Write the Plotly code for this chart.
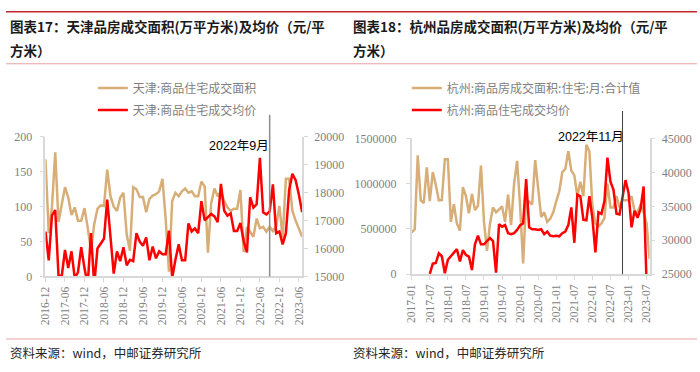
import pandas as pd
import plotly.graph_objects as go

# ---------------- data ----------------
tj_months = [p.strftime("%Y-%m") for p in pd.period_range("2016-12", "2023-07", freq="M")]
tj_area = [168, 62, 100, 178, 78, 106, 128, 113, 88, 99,
           80, 80, 98, 70, 37, 75, 97, 102, 101, 153,
           115, 100, 94, 113, 120, 60, 37, 128, 125, 114,
           114, 92, 111, 116, 118, 122, 140, 82, 7, 108,
           120, 115, 122, 126, 120, 122, 115, 115, 136, 129,
           34, 105, 126, 115, 122, 108, 99, 94, 97, 97,
           124, 35, 71, 64, 57, 83, 69, 71, 64, 71,
           65, 72, 101, 55, 140, 140, 94, 80, 68, 57]
tj_price = [16610, 15575, 17185, 17380, 15050, 15000, 15950, 15300, 15900, 14950,
            15150, 16050, 15300, 14700, 16550, 14700, 16000, 16200, 16350, 17750,
            16450, 15100, 15900, 15550, 16050, 15400, 15600, 15550, 16550, 16250,
            16100, 16400, 15580, 16070, 15650, 15900, 15800, 15800, 16640, 14950,
            15600, 16150, 15580, 15580, 16900, 16610, 16720, 16550, 17700, 17010,
            17130, 17240, 17150, 16950, 18320, 17360, 17180, 17260, 16630, 16630,
            16920, 16260, 15860, 17840, 17470, 17590, 19250, 17300, 17220, 17330,
            18300, 16550, 16610, 16150, 16550, 18100, 18680, 18450, 17930, 17300]

hz_months = [p.strftime("%Y-%m") for p in pd.period_range("2017-01", "2023-08", freq="M")]
hz_area = [461000, 496000, 1312000, 816000, 784000, 1181000, 808000, 1128000, 986000, 816000,
           819000, 1270000, 1270000, 578000, 773000, 560000, 482000, 961000, 862000, 674000,
           887000, 709000, 755000, 1199000, 578000, 259000, 560000, 738000, 684000, 720000,
           748000, 578000, 879000, 543000, 1004000, 1252000, 750000, 120000, 826000, 800000,
           770000, 1260000, 933000, 631000, 684000, 578000, 613000, 684000, 808000, 915000,
           1128000, 1163000, 1358000, 1145000, 1092000, 862000, 1021000, 862000, 1429000, 1358000,
           750000, 560000, 530000, 560000, 620000, 1000000, 738000, 738000, 862000, 740000,
           816000, 816000, 816000, 862000, 700000, 684000, 773000, 684000, 560000, 170000]
hz_price = [None, None, None, None, None, None, 25050, 26560, 26650, 28070,
            27650, 25140, 27130, 27600, 28215, 28690, 26890, 28550, 27840, 27600,
            25615, 29400, 30670, 29400, 29400, 29870, 30340, 29870, 25250, 32380,
            32000, 32230, 31050, 30900, 31050, 31520, 32230, 32470, 38990, 31900,
            31620, 31620, 31520, 31620, 30910, 31290, 30670, 30580, 30670, 30580,
            31050, 31290, 32230, 34830, 29630, 36730, 36490, 33040, 32940, 36490,
            33270, 28220, 34120, 33890, 35780, 42160, 38620, 37430, 33890, 33790,
            36490, 38850, 36960, 31900, 34360, 33320, 34600, 37910, 23500, None]

tj_marker = "2022-09"
hz_marker = "2022-11"

TAN = "#D8AE78"
RED = "#FF0000"
GREY = "#7f7f7f"
AXC = "#d9d9d9"
W, H = 700, 372


def px(xp):
    return xp / W


def py(yp):
    return 1 - yp / H


fig = go.Figure()
fig.add_trace(go.Scatter(x=tj_months, y=tj_area, mode="lines", name="天津:商品住宅成交面积",
                         line=dict(color=TAN, width=2.5), xaxis="x", yaxis="y",
                         legend="legend", legendgroup="a"))
fig.add_trace(go.Scatter(x=tj_months, y=tj_price, mode="lines", name="天津:商品住宅成交均价",
                         line=dict(color=RED, width=2.5), xaxis="x", yaxis="y2",
                         legend="legend", legendgroup="b"))
fig.add_trace(go.Scatter(x=hz_months, y=hz_area, mode="lines", name="杭州:商品房成交面积:住宅:月:合计值",
                         line=dict(color=TAN, width=2.5), xaxis="x2", yaxis="y3",
                         legend="legend2", legendgroup="c"))
fig.add_trace(go.Scatter(x=hz_months, y=hz_price, mode="lines", name="杭州:商品住宅成交均价",
                         line=dict(color=RED, width=2.5), xaxis="x2", yaxis="y4",
                         legend="legend2", legendgroup="d", connectgaps=False))

SERIF = "Liberation Serif"
tickfont = dict(family=SERIF, size=12, color=GREY)
xtickfont = dict(family=SERIF, size=11.5, color=GREY)
common_axis = dict(showgrid=False, zeroline=False, showline=True, linecolor=AXC, linewidth=1.5,
                   ticks="outside", ticklen=4, tickcolor=AXC, tickwidth=1)

L_dom = [px(40), px(300)]
L_ydom = [py(280), py(135)]
R_dom = [px(411), px(652)]
R_ydom = [py(277.7), py(136.5)]

fig.update_layout(
    width=W, height=H, margin=dict(l=0, r=0, t=0, b=0),
    paper_bgcolor="white", plot_bgcolor="white",
    xaxis=dict(domain=L_dom, anchor="y", type="category", categoryorder="array",
               categoryarray=tj_months, range=[0, len(tj_months) - 1],
               tickvals=tj_months[::6], ticktext=tj_months[::6], tickangle=-90,
               tickfont=xtickfont, **common_axis),
    yaxis=dict(domain=L_ydom, anchor="x", range=[0, 200], dtick=50, tickfont=tickfont,
               ticklabelstandoff=5, **common_axis),
    yaxis2=dict(domain=L_ydom, anchor="x", overlaying="y", side="right", range=[15000, 20000],
                dtick=1000, tickformat="d", tickfont=tickfont, ticklabelstandoff=4, **common_axis),
    xaxis2=dict(domain=R_dom, anchor="y3", type="category", categoryorder="array",
                categoryarray=hz_months, range=[0, len(hz_months) - 1],
                tickvals=hz_months[::6], ticktext=hz_months[::6], tickangle=-90,
                tickfont=xtickfont, **common_axis),
    yaxis3=dict(domain=R_ydom, anchor="x2", range=[0, 1500000], dtick=500000,
                tickformat="d", tickfont=tickfont, ticklabelstandoff=7, **common_axis),
    yaxis4=dict(domain=R_ydom, anchor="x2", overlaying="y3", side="right", range=[25000, 45000],
                dtick=5000, tickformat="d", tickfont=tickfont, ticklabelstandoff=4, **common_axis),
    legend=dict(x=px(88), y=py(69), xanchor="left", yanchor="top", bgcolor="rgba(0,0,0,0)",
                font=dict(family="Noto Sans CJK SC", size=12, color=GREY),
                tracegroupgap=3, itemwidth=30),
    legend2=dict(x=px(406), y=py(69), xanchor="left", yanchor="top", bgcolor="rgba(0,0,0,0)",
                 font=dict(family="Noto Sans CJK SC", size=12, color=GREY),
                 tracegroupgap=3, itemwidth=30),
    showlegend=True,
)

shapes = [
    dict(type="line", xref="paper", yref="paper", x0=0, x1=1, y0=py(5), y1=py(5),
         line=dict(color="#C0282D", width=1.5)),
    dict(type="line", xref="paper", yref="paper", x0=0, x1=1, y0=py(59), y1=py(59),
         line=dict(color="#E8A3A3", width=1)),
    dict(type="line", xref="paper", yref="paper", x0=0, x1=1, y0=py(345), y1=py(345),
         line=dict(color="#E8A3A3", width=1)),
    dict(type="line", xref="x", yref="paper", x0=tj_marker, x1=tj_marker, y0=L_ydom[0], y1=py(112),
         line=dict(color="#8c8c8c", width=1.5)),
    dict(type="line", xref="x2", yref="paper", x0=hz_marker, x1=hz_marker, y0=R_ydom[0], y1=py(108),
         line=dict(color="#404040", width=1)),
]
fig.update_layout(shapes=shapes)

title_font = dict(family="Noto Sans CJK SC", size=13.5, color="#1a1a1a")
src_font = dict(family="Noto Sans CJK SC", size=12.5, color="#262626")
ann_font = dict(family="Liberation Sans, Noto Sans CJK SC", size=12.5, color="#000000")
annotations = [
    dict(text="<b>图表17：天津品房成交面积(万平方米)及均价（元/平</b>", x=px(2), y=py(20),
         xref="paper", yref="paper", xanchor="left", yanchor="middle", showarrow=False, font=title_font),
    dict(text="<b>方米）</b>", x=px(2), y=py(45),
         xref="paper", yref="paper", xanchor="left", yanchor="middle", showarrow=False, font=title_font),
    dict(text="<b>图表18：杭州品房成交面积(万平方米)及均价（元/平</b>", x=px(349), y=py(20),
         xref="paper", yref="paper", xanchor="left", yanchor="middle", showarrow=False, font=title_font),
    dict(text="<b>方米）</b>", x=px(349), y=py(45),
         xref="paper", yref="paper", xanchor="left", yanchor="middle", showarrow=False, font=title_font),
    dict(text="资料来源：wind，中邮证券研究所", x=px(2), y=py(359),
         xref="paper", yref="paper", xanchor="left", yanchor="middle", showarrow=False, font=src_font),
    dict(text="资料来源：wind，中邮证券研究所", x=px(349), y=py(359),
         xref="paper", yref="paper", xanchor="left", yanchor="middle", showarrow=False, font=src_font),
    dict(text="2022年9月", x=tj_marker, xref="x", y=py(144), yref="paper", xanchor="right",
         yanchor="middle", xshift=1, showarrow=False, font=ann_font),
    dict(text="2022年11月", x=hz_marker, xref="x2", y=py(135), yref="paper", xanchor="right",
         yanchor="middle", xshift=3, showarrow=False, font=ann_font),
]
fig.update_layout(annotations=annotations)

fig.write_html("out.html", config={"displayModeBar": False},
               post_script="document.body.style.margin='0';document.body.style.overflow='hidden';")
